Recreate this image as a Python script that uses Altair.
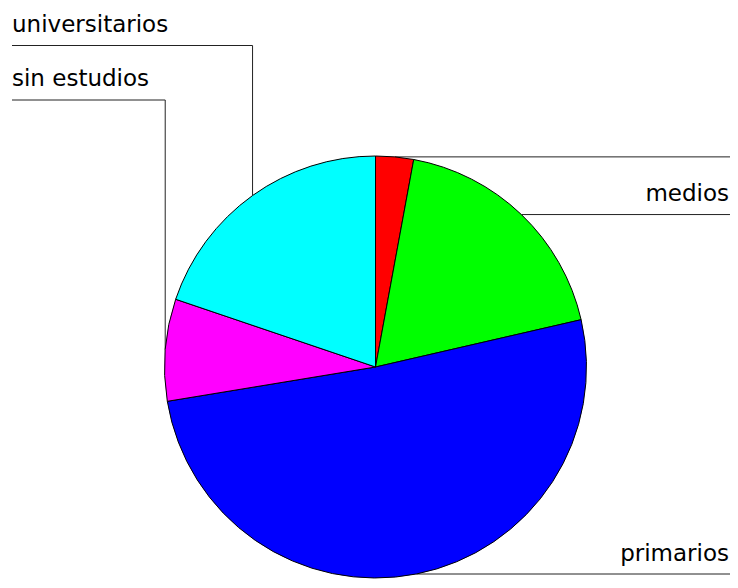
import math
import altair as alt
import pandas as pd

# ---- data ----
categorias = ["otros", "medios", "primarios", "sin estudios", "universitarios"]
etiquetas = ["", "medios", "primarios", "sin estudios", "universitarios"]
porcentajes = [2.9, 18.5, 51.0, 7.8, 19.8]
colores = ["#ff0000", "#00ff00", "#0000ff", "#ff00ff", "#00ffff"]
lado = ["derecha", "derecha", "derecha", "izquierda", "izquierda"]

# ---- layout ----
W, H = 722, 572            # drawing area (page minus 8px margins)
CX, CY = 367.5, 359.0      # pie centre
R = 211.0                  # pie radius
LEFT_X = 4                 # left label column
RIGHT_X = 721              # right label column (right-aligned)
LEFT_LINE_Y = {"universitarios": 37.5, "sin estudios": 92.0}
FONT = "DejaVu Sans"
FS = 23

df = pd.DataFrame({
    "categoria": categorias,
    "etiqueta": etiquetas,
    "valor": porcentajes,
    "orden": list(range(len(categorias))),
})

# leader lines derived from the slice mid-angles
total = sum(porcentajes)
segs, left_txt, right_txt = [], [], []
acc = 0.0
for cat, lab, v, side in zip(categorias, etiquetas, porcentajes, lado):
    mid = (acc + v / 2) / total * 2 * math.pi
    acc += v
    px = CX + R * math.sin(mid)
    py = CY - R * math.cos(mid)
    if side == "derecha":
        segs.append({"x": px, "y": py, "x2": W, "y2": py})
        if lab:
            right_txt.append({"x": RIGHT_X, "y": py - 13.5, "t": lab})
    else:
        ly = LEFT_LINE_Y[cat]
        segs.append({"x": px, "y": py, "x2": px, "y2": ly})
        segs.append({"x": px, "y": ly, "x2": LEFT_X, "y2": ly})
        left_txt.append({"x": LEFT_X, "y": ly - 14, "t": lab})

xs = alt.Scale(domain=[0, W], range=[0, W])
ys = alt.Scale(domain=[0, H], range=[0, H])

pie = alt.Chart(df).mark_arc(radius=R, stroke="black", strokeWidth=1).encode(
    theta=alt.Theta("valor:Q", stack=True),
    color=alt.Color("categoria:N", scale=alt.Scale(domain=categorias, range=colores), legend=None),
    order=alt.Order("orden:Q"),
    x=alt.value(CX),
    y=alt.value(CY),
)

lines = alt.Chart(pd.DataFrame(segs)).mark_rule(color="#222222", strokeWidth=1).encode(
    x=alt.X("x:Q", scale=xs, axis=None),
    y=alt.Y("y:Q", scale=ys, axis=None),
    x2="x2:Q",
    y2="y2:Q",
)

txt_left = alt.Chart(pd.DataFrame(left_txt)).mark_text(
    align="left", baseline="alphabetic", font=FONT, fontSize=FS, color="black"
).encode(
    x=alt.X("x:Q", scale=xs, axis=None),
    y=alt.Y("y:Q", scale=ys, axis=None),
    text="t:N",
)

txt_right = alt.Chart(pd.DataFrame(right_txt)).mark_text(
    align="right", baseline="alphabetic", font=FONT, fontSize=FS, color="black"
).encode(
    x=alt.X("x:Q", scale=xs, axis=None),
    y=alt.Y("y:Q", scale=ys, axis=None),
    text="t:N",
)

chart = alt.layer(lines, pie, txt_left, txt_right).properties(
    width=W, height=H, padding=0,
    autosize=alt.AutoSizeParams(type="none"),
).configure_view(stroke=None)

chart.save("out.html", embed_options={"renderer": "svg", "actions": False})
